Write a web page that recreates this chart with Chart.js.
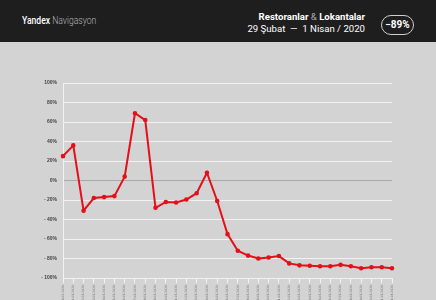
<!DOCTYPE html>
<html>
<head>
<meta charset="utf-8">
<script src="https://cdn.jsdelivr.net/npm/chart.js@4/dist/chart.umd.min.js"></script>
<style>
  html, body { margin: 0; padding: 0; width: 436px; height: 300px; background: #d3d3d3; overflow: hidden; }
  #head { position: absolute; left: 0; top: 0; width: 436px; height: 42px; background: #1e1e1e; font-family: Roboto, "Noto Sans", sans-serif; }
  #brand { position: absolute; left: 22px; top: 14px; font-family: Roboto, sans-serif; font-size: 11px; color: #fff; transform: scaleX(0.78); transform-origin: left top; white-space: nowrap; }
  #brand b { font-weight: 500; }
  #brand span { color: #b8b8b8; font-weight: 300; }
  #title { position: absolute; right: 71px; top: 11px; text-align: right; color: #fff; font-size: 9.6px; line-height: 12px; white-space: nowrap; }
  #title b { font-weight: 700; }
  #title .amp { color: #aaa; font-weight: 400; }
  #pill { position: absolute; left: 381px; top: 15px; width: 31px; height: 18px; border: 1px solid #cfcfcf; border-radius: 10px; color: #fff; font-size: 10px; font-weight: 700; line-height: 18px; text-align: center; }
  #wrap { position: absolute; left: 0; top: 43px; width: 436px; height: 257px; }
</style>
</head>
<body>
<div id="head">
  <div id="brand"><b>Yandex</b> <span>Navigasyon</span></div>
  <div id="title"><b>Restoranlar <span class="amp">&amp;</span> Lokantalar</b><br>29 Şubat &nbsp;—&nbsp; 1 Nisan / 2020</div>
  <div id="pill">−89%</div>
</div>
<div id="wrap"><canvas id="c"></canvas></div>
<script>
// days: 29 Feb .. 1 Apr 2020
const dates = [
  '29.02.2020',
  '01.03.2020', '02.03.2020', '03.03.2020', '04.03.2020', '05.03.2020', '06.03.2020', '07.03.2020',
  '08.03.2020', '09.03.2020', '10.03.2020', '11.03.2020', '12.03.2020', '13.03.2020', '14.03.2020',
  '15.03.2020', '16.03.2020', '17.03.2020', '18.03.2020', '19.03.2020', '20.03.2020', '21.03.2020',
  '22.03.2020', '23.03.2020', '24.03.2020', '25.03.2020', '26.03.2020', '27.03.2020', '28.03.2020',
  '29.03.2020', '30.03.2020', '31.03.2020', '01.04.2020'
];
const change = [
  25, 36, -31, -18, -17, -16, 4, 69, 62, -28, -22,
  -22.5, -19.5, -13, 8, -21, -55, -72, -77, -80, -79, -77.5,
  -85, -87, -87.5, -88, -88, -86.5, -88, -90, -89, -89, -90
];
const yMin = -100, yMax = 100, yStep = 20;

new Chart(document.getElementById('c'), {
  type: 'line',
  data: {
    labels: dates,
    datasets: [{
      data: change,
      borderColor: '#e3101a',
      backgroundColor: '#e3101a',
      borderWidth: 2,
      pointRadius: 1.3,
      pointHoverRadius: 2,
      tension: 0,
    }]
  },
  options: {
    responsive: true,
    maintainAspectRatio: false,
    animation: false,
    layout: { padding: { left: 0, right: 44, top: 40, bottom: 0 } },
    plugins: { legend: { display: false }, tooltip: { enabled: false } },
    scales: {
      x: {
        offset: false,
        border: { color: '#f2f2f2', width: 1 },
        grid: { drawOnChartArea: false, color: '#f2f2f2', tickLength: 5 },
        ticks: { color: '#666', font: { size: 3, family: 'DejaVu Sans' }, maxRotation: 90, minRotation: 90, autoSkip: false, padding: 2 },
        afterFit(s) { s.height = 22; }
      },
      y: {
        min: yMin, max: yMax,
        border: { color: '#f2f2f2', width: 1 },
        grid: {
          drawTicks: false,
          color: c => c.tick && c.tick.value === 0 ? '#a9a9a9' : '#f2f2f2',
          lineWidth: 1
        },
        ticks: {
          stepSize: yStep,
          color: '#444',
          padding: 6,
          font: { size: 5, weight: 'bold', family: 'Liberation Sans' },
          callback: v => (v < 0 ? '- ' + Math.abs(v) : v) + '%'
        },
        afterFit(s) { s.width = 63; }
      }
    }
  }
});
</script>
</body>
</html>
